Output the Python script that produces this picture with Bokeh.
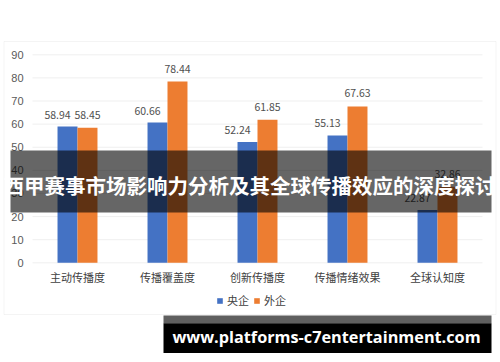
from bokeh.plotting import figure
from bokeh.models import (ColumnDataSource, Range1d, BoxAnnotation, Label, Legend, LegendItem)
from bokeh.transform import dodge
from bokeh.core.properties import value
from bokeh.embed import file_html
from bokeh.resources import INLINE

# ---- data ----
categories = ["主动传播度", "传播覆盖度", "创新传播度", "传播情绪效果", "全球认知度"]
series_names = ["央企", "外企"]
yangqi = [58.94, 60.66, 52.24, 55.13, 22.87]
waiqi = [58.45, 78.44, 61.85, 67.63, 32.86]
y_ticks = [0, 10, 20, 30, 40, 50, 60, 70, 80, 90]
title_text = "西甲赛事市场影响力分析及其全球传播效应的深度探讨"
url_text = "www.platforms-c7entertainment.com"

BLUE = "#4472C4"
ORANGE = "#ED7D31"
CJK = "Noto Sans CJK SC"

W, H = 500, 362
n = len(categories)
ymax = y_ticks[-1]

# canvas-covering frame; plot area is [0, n] x [0, ymax] in data units
PX_PER_CAT = 90.0
PX_PER_UNIT = 208.0 / ymax
left_px, bottom_px = 32.0, 99.7     # plot-area origin inside the canvas (pixels)
x_range = Range1d(-left_px / PX_PER_CAT, (W - left_px) / PX_PER_CAT)
y_range = Range1d(-bottom_px / PX_PER_UNIT, (H - bottom_px) / PX_PER_UNIT)

p = figure(x_range=x_range, y_range=y_range, width=W, height=H,
           output_backend="svg", toolbar_location=None,
           x_axis_location=None, y_axis_location=None,
           min_border=0, min_border_left=0, min_border_right=0,
           min_border_top=0, min_border_bottom=0)
p.outline_line_color = None
p.grid.visible = False
p.background_fill_color = "white"
p.border_fill_color = "white"

src = ColumnDataSource(dict(
    xc=[i + 0.5 for i in range(n)],
    cat=categories,
    a=yangqi,
    b=waiqi,
    a_lbl=[f"{v:.2f}" for v in yangqi],
    b_lbl=[f"{v:.2f}" for v in waiqi],
))
tick_src = ColumnDataSource(dict(y=y_ticks, lbl=[str(t) for t in y_ticks],
                                 x0=[0] * len(y_ticks), x1=[n] * len(y_ticks)))

# gridlines and y tick labels
p.segment(x0="x0", x1="x1", y0="y", y1="y", source=tick_src,
          line_color="#efefef", line_width=1)
p.text(x="x0", y="y", text="lbl", source=tick_src, x_offset=-9,
       text_align="right", text_baseline="middle",
       text_font=value("Liberation Sans"), text_font_size="11px", text_color="#595959")

# bars
off = 0.111
r1 = p.vbar(x=dodge("xc", -off), top="a", width=0.222, source=src,
            fill_color=BLUE, line_color=None)
r2 = p.vbar(x=dodge("xc", off), top="b", width=0.222, source=src,
            fill_color=ORANGE, line_color=None)

# category labels
p.text(x="xc", y=0, text="cat", source=src, y_offset=14,
       text_align="center", text_baseline="middle",
       text_font=value(CJK), text_font_size="11px", text_color="#404040")

# value labels
p.text(x=dodge("xc", -off), y="a", text="a_lbl", source=src,
       x_offset=-10, y_offset=-12, text_align="center", text_baseline="middle",
       text_font=value(CJK), text_font_size="10.5px", text_color="#505050")
p.text(x=dodge("xc", off), y="b", text="b_lbl", source=src,
       x_offset=0, y_offset=-13, text_align="center", text_baseline="middle",
       text_font=value(CJK), text_font_size="10.5px", text_color="#505050")

# legend
legend = Legend(items=[LegendItem(label=series_names[0], renderers=[r1]),
                       LegendItem(label=series_names[1], renderers=[r2])],
                orientation="horizontal", location=(216, 54),
                glyph_width=7, glyph_height=7, label_height=12,
                label_text_font=CJK, label_text_font_size="11px", label_text_color="#404040",
                padding=0, margin=0, spacing=4, label_standoff=4,
                border_line_color=None, background_fill_alpha=0)
p.add_layout(legend, "center")

def sbox(**kw):
    return BoxAnnotation(left_units="screen", right_units="screen",
                         top_units="screen", bottom_units="screen", **kw)

# chart border
p.add_layout(sbox(left=3.5, right=495.5, top=321, bottom=48,
                  fill_color=None, line_color="#d9d9d9", line_width=1))

# title band + title
p.add_layout(sbox(left=10, right=491, top=212, bottom=150,
                  fill_color="black", fill_alpha=0.6, line_color=None))
p.add_layout(Label(x=249, y=177.5, x_units="screen", y_units="screen", text=title_text,
                   text_align="center", text_baseline="middle",
                   text_font=CJK, text_font_style="bold", text_font_size="20.5px",
                   text_color="white"))

# url box + url
p.add_layout(sbox(left=163, right=491, top=47, bottom=39.3,
                  fill_color="#5f5f5f", fill_alpha=1, line_color=None))
p.add_layout(sbox(left=163, right=491, top=39.3, bottom=9.5,
                  fill_color="black", fill_alpha=1, line_color=None))
p.add_layout(Label(x=326, y=25.5, x_units="screen", y_units="screen", text=url_text,
                   text_align="center", text_baseline="middle",
                   text_font="Open Sans", text_font_style="bold", text_font_size="16.25px",
                   text_color="white"))

open("out.html", "w").write(file_html(p, INLINE))
